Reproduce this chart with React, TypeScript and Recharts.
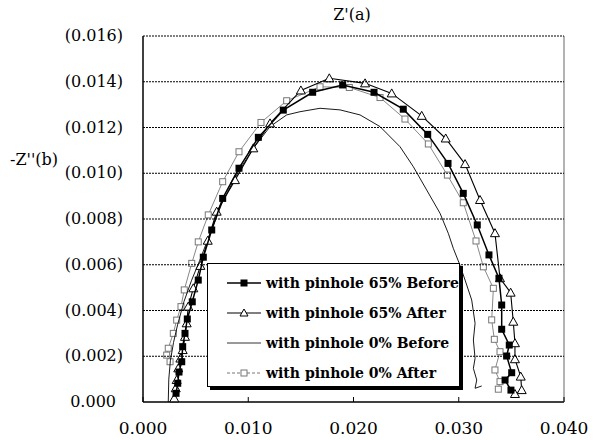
import React from "react";
import { ScatterChart, Scatter, XAxis, YAxis } from "recharts";

// Nyquist data, [Z' , -Z''] pairs
const pinhole65Before: [number, number][] = [
  [0.00314, 0.00038], [0.0033, 0.00082], [0.00342, 0.00131], [0.00368, 0.00176],
  [0.00377, 0.00242], [0.00399, 0.003], [0.00421, 0.00363], [0.00468, 0.00438],
  [0.00525, 0.00533], [0.00573, 0.00633], [0.00653, 0.00752], [0.00757, 0.0089],
  [0.00912, 0.01022], [0.01096, 0.01157], [0.01333, 0.01276], [0.01612, 0.01354],
  [0.01897, 0.01386], [0.02195, 0.01354], [0.02473, 0.0128], [0.02705, 0.0117],
  [0.02898, 0.01043], [0.03043, 0.00912], [0.03176, 0.00774], [0.03287, 0.00643],
  [0.03382, 0.00541], [0.03408, 0.00424], [0.03408, 0.00318], [0.0348, 0.00249],
  [0.03455, 0.00201], [0.03503, 0.00128], [0.0344, 0.00096], [0.03496, 0.00052],
];

const pinhole65After: [number, number][] = [
  [0.00297, 0.00016], [0.00311, 0.0006], [0.0032, 0.00096], [0.00335, 0.00147],
  [0.00355, 0.0019], [0.00377, 0.00227], [0.00399, 0.00285], [0.00415, 0.00344],
  [0.0043, 0.00417], [0.00478, 0.00497], [0.00545, 0.00595], [0.00615, 0.00705],
  [0.007, 0.00832], [0.00874, 0.0097], [0.01048, 0.01109], [0.01207, 0.01218],
  [0.015, 0.01362], [0.0177, 0.01415], [0.0211, 0.01393], [0.02363, 0.01349],
  [0.02648, 0.01251], [0.02876, 0.01152], [0.0306, 0.0104], [0.03202, 0.00883],
  [0.03344, 0.00738], [0.03392, 0.00541], [0.03493, 0.00478], [0.03518, 0.00351],
  [0.03534, 0.00257], [0.03534, 0.00187], [0.03589, 0.00111], [0.03598, 0.00052],
  [0.03534, 0.00035],
];

const pinhole0Before: [number, number][] = [
  [0.0024, 0.0], [0.00245, 0.001], [0.0026, 0.0018], [0.0029, 0.0026],
  [0.0033, 0.0034], [0.0039, 0.0044], [0.0046, 0.0053], [0.0054, 0.0062],
  [0.0064, 0.0074], [0.0076, 0.0088], [0.0091, 0.0101], [0.0105, 0.0111],
  [0.01207, 0.01204], [0.01365, 0.01255], [0.01492, 0.01269], [0.01682, 0.01284],
  [0.01872, 0.01277], [0.02062, 0.01255], [0.02252, 0.01204], [0.02442, 0.01116],
  [0.02568, 0.01029], [0.02695, 0.00927], [0.02822, 0.00825], [0.02901, 0.00737],
  [0.02948, 0.00672], [0.03005, 0.00606], [0.0306, 0.00533], [0.03123, 0.00446],
  [0.03155, 0.00344], [0.03139, 0.00271], [0.03155, 0.00191], [0.03139, 0.00147],
  [0.03171, 0.00096], [0.03155, 0.0006], [0.03218, 0.0007],
];

const pinhole0After: [number, number][] = [
  [0.00257, 0.00176], [0.00225, 0.00205], [0.0024, 0.00235], [0.00288, 0.003],
  [0.0032, 0.00358], [0.00361, 0.00417], [0.00392, 0.0049], [0.00463, 0.00606],
  [0.00525, 0.007], [0.0062, 0.00818], [0.00757, 0.00963], [0.00912, 0.01094],
  [0.01121, 0.01222], [0.01365, 0.01317], [0.01682, 0.01378], [0.0196, 0.01375],
  [0.02252, 0.01331], [0.02489, 0.01237], [0.02711, 0.01128], [0.02892, 0.00992],
  [0.03043, 0.00871], [0.03164, 0.00704], [0.03234, 0.00591], [0.03329, 0.00497],
  [0.03313, 0.00359], [0.03338, 0.00274], [0.03392, 0.0022], [0.03344, 0.0014],
  [0.03392, 0.00089], [0.03376, 0.00056],
];

const xTicks = [0, 0.01, 0.02, 0.03, 0.04];
const yTicks = [0, 0.002, 0.004, 0.006, 0.008, 0.01, 0.012, 0.014, 0.016];

const legendItems = [
  "with pinhole 65% Before",
  "with pinhole 65% After",
  "with pinhole 0% Before",
  "with pinhole 0% After",
];

const toPoints = (arr: [number, number][]) => arr.map(([x, y]) => ({ x, y }));

const FONT = "'DejaVu Serif', serif";
// plot box edges in px (margin + axis sizes below)
const PLOT_LEFT = 143;
const PLOT_RIGHT = 564;
const PLOT_TOP = 36;
const PLOT_BOTTOM = 402;

const FilledSquare = (p: any) => (
  <rect x={p.cx - 3.5} y={p.cy - 3.5} width={7} height={7} fill="#000" />
);

const OpenTriangle = (p: any) => (
  <path
    d={`M${p.cx},${p.cy - 4.5} L${p.cx + 4.5},${p.cy + 3.5} L${p.cx - 4.5},${p.cy + 3.5} Z`}
    fill="#fff"
    stroke="#000"
    strokeWidth={1}
  />
);

const OpenSquare = (p: any) => (
  <rect
    x={p.cx - 3}
    y={p.cy - 3}
    width={6}
    height={6}
    fill="#fff"
    stroke="#777"
    strokeWidth={1}
  />
);

const NoMarker = () => <g />;

// y tick: label plus its dotted gridline across the plot
const YTick = ({ y, payload }: any) => {
  const v = payload.value as number;
  const label = v === 0 ? "0.000" : `(${v.toFixed(3)})`;
  return (
    <g>
      {v > 0 && (
        <line
          x1={PLOT_LEFT}
          x2={PLOT_RIGHT}
          y1={y}
          y2={y}
          stroke="#000"
          strokeWidth={1}
          strokeDasharray="2 1"
        />
      )}
      <text
        x={v === 0 ? 116 : 123}
        y={y}
        dy={5}
        textAnchor="end"
        fontFamily={FONT}
        fontSize={16}
        fill="#000"
      >
        {label}
      </text>
    </g>
  );
};

// x tick: short inward mark, label below; last tick also closes the frame
const XTick = ({ x, payload }: any) => {
  const v = payload.value as number;
  return (
    <g>
      {v === 0.04 && (
        <line
          x1={x}
          y1={PLOT_BOTTOM}
          x2={x}
          y2={PLOT_TOP}
          stroke="#666"
          strokeWidth={1}
        />
      )}
      <line x1={x} y1={PLOT_BOTTOM} x2={x} y2={PLOT_BOTTOM - 5} stroke="#000" />
      <text
        x={x}
        y={434}
        textAnchor="middle"
        fontFamily={FONT}
        fontSize={17}
        fill="#000"
      >
        {v.toFixed(3)}
      </text>
    </g>
  );
};

const LegendSample = ({ index }: { index: number }) => {
  const cy = 7;
  const cx = 17;
  if (index === 0)
    return (
      <svg width={34} height={14}>
        <line x1={0} y1={cy} x2={34} y2={cy} stroke="#000" strokeWidth={1.5} />
        <rect x={cx - 3.5} y={cy - 3.5} width={7} height={7} fill="#000" />
      </svg>
    );
  if (index === 1)
    return (
      <svg width={34} height={14}>
        <line x1={0} y1={cy} x2={34} y2={cy} stroke="#000" strokeWidth={1.2} />
        <path
          d={`M${cx},${cy - 4} L${cx + 4},${cy + 3} L${cx - 4},${cy + 3} Z`}
          fill="#fff"
          stroke="#000"
        />
      </svg>
    );
  if (index === 2)
    return (
      <svg width={34} height={14}>
        <line x1={0} y1={cy} x2={34} y2={cy} stroke="#000" strokeWidth={0.8} />
      </svg>
    );
  return (
    <svg width={34} height={14}>
      <line
        x1={0}
        y1={cy}
        x2={34}
        y2={cy}
        stroke="#777"
        strokeWidth={1}
        strokeDasharray="3 2"
      />
      <rect
        x={cx - 3}
        y={cy - 3}
        width={6}
        height={6}
        fill="#fff"
        stroke="#777"
      />
    </svg>
  );
};

const LegendBox = () => (
  <div
    style={{
      position: "absolute",
      left: 207,
      top: 263,
      width: 253,
      height: 124,
      boxSizing: "border-box",
      border: "1px solid #000",
      boxShadow: "3px 3px 0 #000",
      background: "#fff",
      paddingTop: 4,
    }}
  >
    {legendItems.map((label, i) => (
      <div
        key={label}
        style={{
          display: "flex",
          alignItems: "center",
          height: 30,
          paddingLeft: 19,
        }}
      >
        <LegendSample index={i} />
        <span
          style={{
            marginLeft: 5,
            fontFamily: FONT,
            fontWeight: "bold",
            fontSize: 14,
            color: "#000",
            whiteSpace: "nowrap",
          }}
        >
          {label}
        </span>
      </div>
    ))}
  </div>
);

export default function App() {
  return (
    <div
      style={{
        position: "absolute",
        left: 0,
        top: 0,
        width: 594,
        height: 440,
        background: "#fff",
      }}
    >
      <ScatterChart
        width={594}
        height={440}
        margin={{ top: PLOT_TOP, right: 594 - PLOT_RIGHT, bottom: 0, left: 0 }}
      >
        <XAxis
          type="number"
          dataKey="x"
          domain={[0, 0.04]}
          ticks={xTicks}
          height={440 - PLOT_BOTTOM}
          axisLine={{ stroke: "#000", strokeWidth: 1.5 }}
          tickLine={false}
          tick={<XTick />}
          interval={0}
        />
        <YAxis
          type="number"
          dataKey="y"
          domain={[0, 0.016]}
          ticks={yTicks}
          width={PLOT_LEFT}
          axisLine={{ stroke: "#000", strokeWidth: 1.5 }}
          tickLine={false}
          tick={<YTick />}
          interval={0}
        />
        <Scatter
          data={toPoints(pinhole0After)}
          line={{ stroke: "#888", strokeWidth: 1 }}
          lineType="joint"
          shape={<OpenSquare />}
          isAnimationActive={false}
        />
        <Scatter
          data={toPoints(pinhole0Before)}
          line={{ stroke: "#000", strokeWidth: 0.9 }}
          lineType="joint"
          shape={<NoMarker />}
          isAnimationActive={false}
        />
        <Scatter
          data={toPoints(pinhole65After)}
          line={{ stroke: "#000", strokeWidth: 1.1 }}
          lineType="joint"
          shape={<OpenTriangle />}
          isAnimationActive={false}
        />
        <Scatter
          data={toPoints(pinhole65Before)}
          line={{ stroke: "#000", strokeWidth: 1.5 }}
          lineType="joint"
          shape={<FilledSquare />}
          isAnimationActive={false}
        />
        <text
          x={352}
          y={20}
          textAnchor="middle"
          fontFamily={FONT}
          fontSize={16}
          fill="#000"
        >
          Z'(a)
        </text>
        <text x={10} y={165} fontFamily={FONT} fontSize={16} fill="#000">
          -Z''(b)
        </text>
      </ScatterChart>
      <LegendBox />
    </div>
  );
}
